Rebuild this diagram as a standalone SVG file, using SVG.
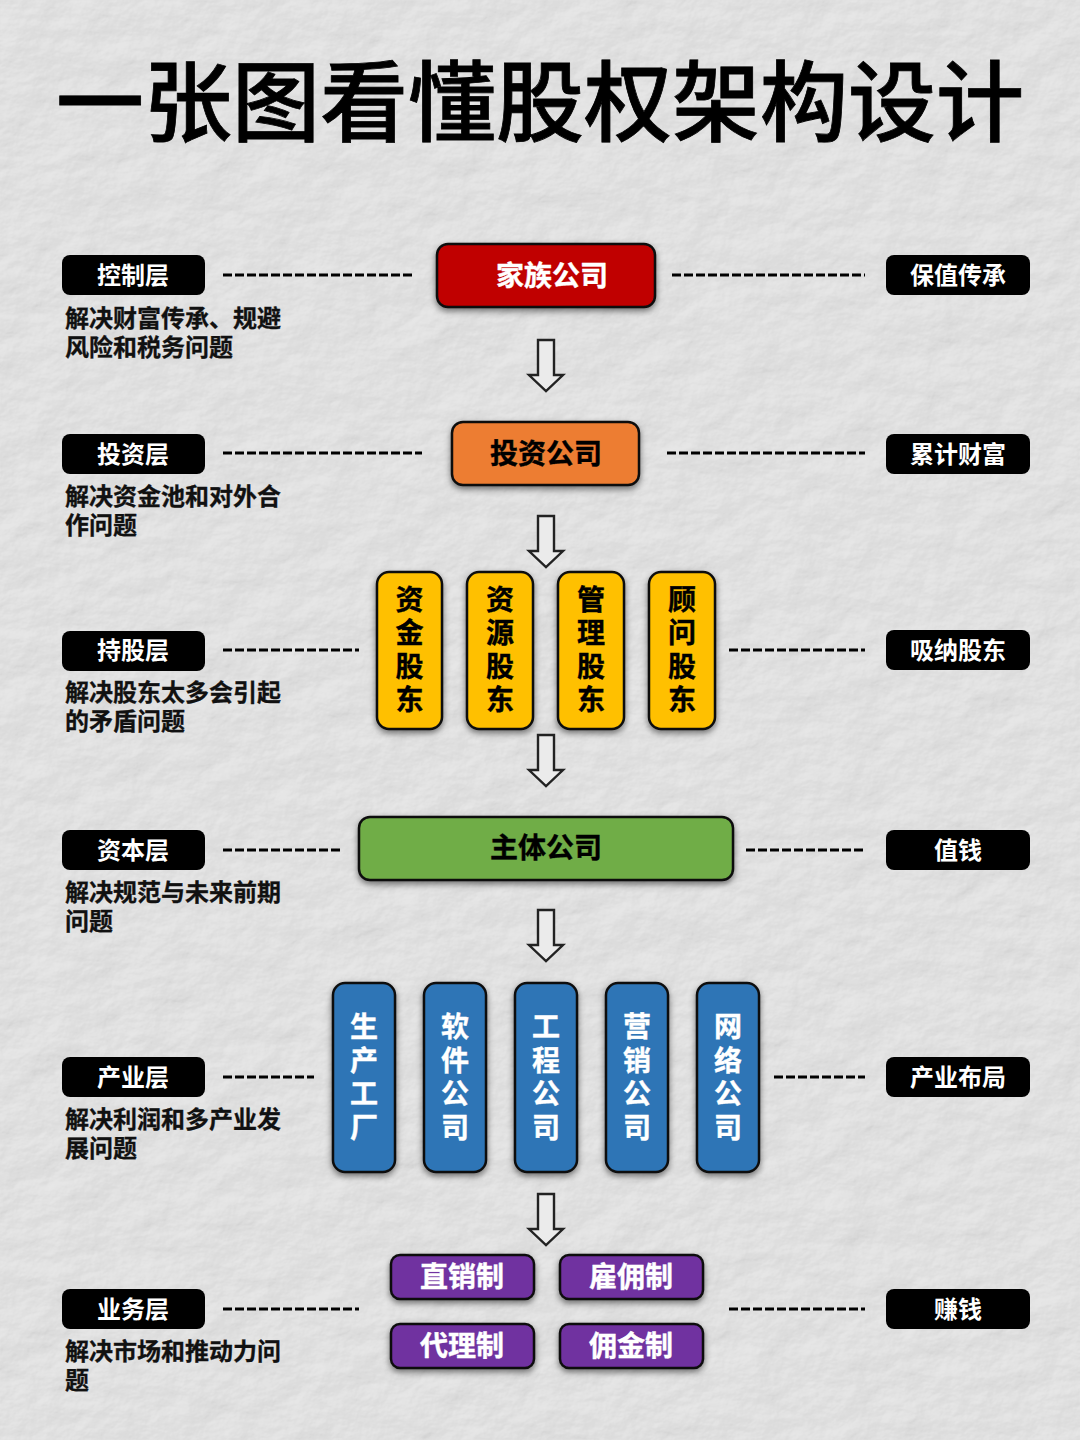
<svg xmlns="http://www.w3.org/2000/svg" width="1080" height="1440" viewBox="0 0 1080 1440">
<style>
text{font-family:"Noto Sans CJK SC","Noto Sans",sans-serif;font-weight:700;text-anchor:middle}
.title{font-size:88px;font-weight:500;fill:#000;stroke:#000;stroke-width:.8}
.tag{fill:#000}
.tagt{font-size:24px;fill:#fff}
.desc{font-size:24px;fill:#111;text-anchor:start;stroke:#111;stroke-width:.3}
.dash{stroke:#000;stroke-width:3;stroke-dasharray:9 3;fill:none}
.box{stroke:#111;stroke-width:2.5;filter:url(#sh)}
.n{font-size:28px;stroke-width:.4}
.w{fill:#fff;stroke:#fff}.k{fill:#000;stroke:#000}
.arrow{fill:#ebebeb;stroke:#222;stroke-width:2.4;stroke-linejoin:miter}
</style>
<defs>
<filter id="paper" x="0" y="0" width="100%" height="100%">
<feTurbulence type="fractalNoise" baseFrequency="0.022 0.03" numOctaves="6" seed="11" result="t"/>
<feDiffuseLighting in="t" surfaceScale="2" diffuseConstant="1.02" lighting-color="#e8e8e8"><feDistantLight azimuth="50" elevation="65"/></feDiffuseLighting>
</filter>
<filter id="sh" x="-25%" y="-25%" width="150%" height="155%"><feDropShadow dx="0" dy="3" stdDeviation="3" flood-color="#000" flood-opacity="0.5"/></filter>
<path id="ar" class="arrow" d="M-8,0H8V35H17L0,51L-17,35H-8Z"/>
</defs>
<rect id="background" width="1080" height="1440" fill="#e6e6e6"/>
<rect width="1080" height="1440" filter="url(#paper)" opacity="0.9"/>
<text class="title" x="540" y="134">一张图看懂股权架构设计</text>

<g id="connectors">
<path class="dash" d="M223,275H415M672,275H865" stroke-dasharray="9.200 3"/>
<path class="dash" d="M223,453H422M667,453H865"/>
<path class="dash" d="M223,650H359M729,650H865"/>
<path class="dash" d="M223,850H341M746,850H863"/>
<path class="dash" d="M223,1077H314M774,1077H865"/>
<path class="dash" d="M223,1309H359M729,1309H865"/>
<use href="#ar" x="546" y="340"/>
<use href="#ar" x="546" y="516"/>
<use href="#ar" x="546" y="735"/>
<use href="#ar" x="546" y="910"/>
<use href="#ar" x="546" y="1194"/>
</g>

<g id="layer-control"><rect class="tag" x="62" y="255" width="143" height="40" rx="8"/><text class="tagt" x="133" y="284">控制层</text>
<text class="desc" x="65" y="327">解决财富传承、规避</text><text class="desc" x="65" y="356">风险和税务问题</text></g>
<g id="layer-invest"><rect class="tag" x="62" y="434" width="143" height="40" rx="8"/><text class="tagt" x="133" y="463">投资层</text>
<text class="desc" x="65" y="505">解决资金池和对外合</text><text class="desc" x="65" y="534">作问题</text></g>
<g id="layer-hold"><rect class="tag" x="62" y="631" width="143" height="40" rx="8"/><text class="tagt" x="133" y="659">持股层</text>
<text class="desc" x="65" y="701">解决股东太多会引起</text><text class="desc" x="65" y="730">的矛盾问题</text></g>
<g id="layer-capital"><rect class="tag" x="62" y="830" width="143" height="40" rx="8"/><text class="tagt" x="133" y="859">资本层</text>
<text class="desc" x="65" y="901">解决规范与未来前期</text><text class="desc" x="65" y="930">问题</text></g>
<g id="layer-industry"><rect class="tag" x="62" y="1057" width="143" height="40" rx="8"/><text class="tagt" x="133" y="1086">产业层</text>
<text class="desc" x="65" y="1128">解决利润和多产业发</text><text class="desc" x="65" y="1157">展问题</text></g>
<g id="layer-business"><rect class="tag" x="62" y="1289" width="143" height="40" rx="8"/><text class="tagt" x="133" y="1318">业务层</text>
<text class="desc" x="65" y="1360">解决市场和推动力问</text><text class="desc" x="65" y="1389">题</text></g>

<g id="right-1"><rect class="tag" x="886" y="255" width="144" height="40" rx="8"/><text class="tagt" x="958" y="284">保值传承</text></g>
<g id="right-2"><rect class="tag" x="886" y="434" width="144" height="40" rx="8"/><text class="tagt" x="958" y="463">累计财富</text></g>
<g id="right-3"><rect class="tag" x="886" y="630" width="144" height="40" rx="8"/><text class="tagt" x="958" y="659">吸纳股东</text></g>
<g id="right-4"><rect class="tag" x="886" y="830" width="144" height="40" rx="8"/><text class="tagt" x="958" y="859">值钱</text></g>
<g id="right-5"><rect class="tag" x="886" y="1057" width="144" height="40" rx="8"/><text class="tagt" x="958" y="1086">产业布局</text></g>
<g id="right-6"><rect class="tag" x="886" y="1289" width="144" height="40" rx="8"/><text class="tagt" x="958" y="1318">赚钱</text></g>

<g id="family"><rect class="box" x="437" y="244" width="218" height="63" rx="11" fill="#c00000"/><text class="n w" x="552" y="286">家族公司</text></g>
<g id="investco"><rect class="box" x="452" y="422" width="187" height="63" rx="11" fill="#ed7d31"/><text class="n k" x="546" y="464">投资公司</text></g>

<g id="s1"><rect class="box" x="377" y="572" width="65" height="157" rx="12" fill="#ffc000"/><text class="n k"><tspan x="409.500" y="610">资</tspan><tspan x="409.500" y="643">金</tspan><tspan x="409.500" y="677">股</tspan><tspan x="409.500" y="710">东</tspan></text></g>
<g id="s2"><rect class="box" x="467" y="572" width="66" height="157" rx="12" fill="#ffc000"/><text class="n k"><tspan x="500" y="610">资</tspan><tspan x="500" y="643">源</tspan><tspan x="500" y="677">股</tspan><tspan x="500" y="710">东</tspan></text></g>
<g id="s3"><rect class="box" x="558" y="572" width="66" height="157" rx="12" fill="#ffc000"/><text class="n k"><tspan x="591" y="610">管</tspan><tspan x="591" y="643">理</tspan><tspan x="591" y="677">股</tspan><tspan x="591" y="710">东</tspan></text></g>
<g id="s4"><rect class="box" x="649" y="572" width="66" height="157" rx="12" fill="#ffc000"/><text class="n k"><tspan x="682" y="610">顾</tspan><tspan x="682" y="643">问</tspan><tspan x="682" y="677">股</tspan><tspan x="682" y="710">东</tspan></text></g>

<g id="main"><rect class="box" x="359" y="817" width="374" height="63" rx="11" fill="#70ad47"/><text class="n k" x="546" y="858">主体公司</text></g>

<g id="c1"><rect class="box" x="333" y="983" width="62" height="189" rx="12" fill="#2e75b6"/><text class="n w"><tspan x="364" y="1037">生</tspan><tspan x="364" y="1071">产</tspan><tspan x="364" y="1104">工</tspan><tspan x="364" y="1138">厂</tspan></text></g>
<g id="c2"><rect class="box" x="424" y="983" width="62" height="189" rx="12" fill="#2e75b6"/><text class="n w"><tspan x="455" y="1037">软</tspan><tspan x="455" y="1071">件</tspan><tspan x="455" y="1104">公</tspan><tspan x="455" y="1138">司</tspan></text></g>
<g id="c3"><rect class="box" x="515" y="983" width="62" height="189" rx="12" fill="#2e75b6"/><text class="n w"><tspan x="546" y="1037">工</tspan><tspan x="546" y="1071">程</tspan><tspan x="546" y="1104">公</tspan><tspan x="546" y="1138">司</tspan></text></g>
<g id="c4"><rect class="box" x="606" y="983" width="62" height="189" rx="12" fill="#2e75b6"/><text class="n w"><tspan x="637" y="1037">营</tspan><tspan x="637" y="1071">销</tspan><tspan x="637" y="1104">公</tspan><tspan x="637" y="1138">司</tspan></text></g>
<g id="c5"><rect class="box" x="697" y="983" width="62" height="189" rx="12" fill="#2e75b6"/><text class="n w"><tspan x="728" y="1037">网</tspan><tspan x="728" y="1071">络</tspan><tspan x="728" y="1104">公</tspan><tspan x="728" y="1138">司</tspan></text></g>

<g id="b1"><rect class="box" x="391" y="1255" width="143" height="44" rx="9" fill="#7030a0"/><text class="n w" x="462" y="1287">直销制</text></g>
<g id="b2"><rect class="box" x="560" y="1255" width="143" height="44" rx="9" fill="#7030a0"/><text class="n w" x="631" y="1287">雇佣制</text></g>
<g id="b3"><rect class="box" x="391" y="1324" width="143" height="44" rx="9" fill="#7030a0"/><text class="n w" x="462" y="1356">代理制</text></g>
<g id="b4"><rect class="box" x="560" y="1324" width="143" height="44" rx="9" fill="#7030a0"/><text class="n w" x="631" y="1356">佣金制</text></g>
</svg>
